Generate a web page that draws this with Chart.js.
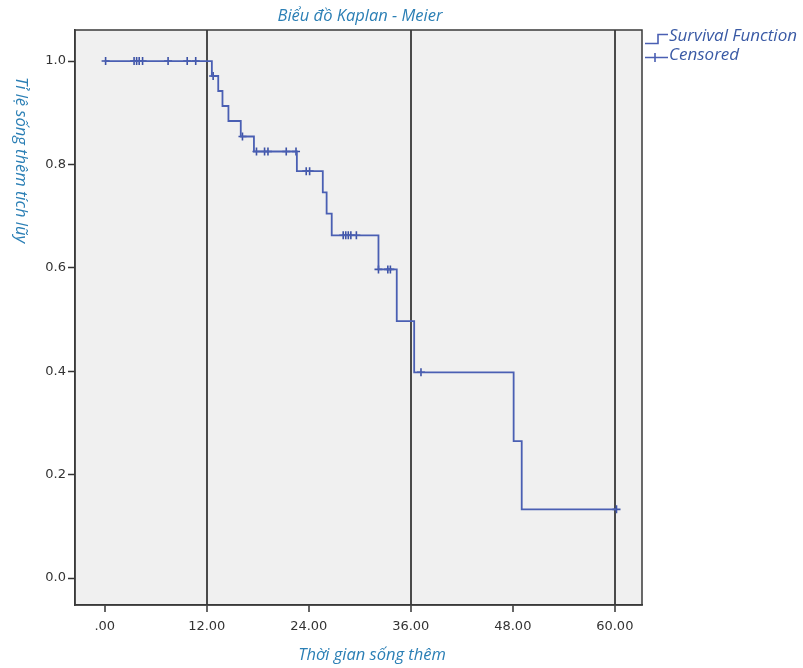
<!DOCTYPE html>
<html>
<head>
<meta charset="utf-8">
<script src="https://cdn.jsdelivr.net/npm/chart.js@4"></script>
<style>
html,body{margin:0;padding:0;background:#fff;}
canvas{display:block;}
</style>
</head>
<body>
<canvas id="c" width="803" height="668"></canvas>
<script>
// ---- data ----
const eventTimes = [0, 12.6, 13.35, 13.85, 14.55, 16.0, 17.55, 22.6, 25.65, 26.1, 26.7, 32.2, 34.35, 36.4, 48.1, 49.05, 60.2];
const survival   = [1.0, 0.971, 0.942, 0.913, 0.884, 0.854, 0.825, 0.787, 0.746, 0.705, 0.663, 0.597, 0.497, 0.398, 0.265, 0.133, 0.133];
const censorTimes  = [0.1, 3.45, 3.75, 4.05, 4.45, 7.45, 9.7, 10.7, 12.75, 16.2, 17.85, 18.8, 19.2, 21.35, 22.5, 23.7, 24.1, 28.05, 28.35, 28.65, 28.95, 29.6, 32.2, 33.3, 33.6, 37.2, 60.2];
const censorValues = [1.0, 1.0, 1.0, 1.0, 1.0, 1.0, 1.0, 1.0, 0.971, 0.854, 0.825, 0.825, 0.825, 0.825, 0.825, 0.787, 0.787, 0.663, 0.663, 0.663, 0.663, 0.663, 0.597, 0.597, 0.597, 0.398, 0.133];
const xTicks = [0, 12, 24, 36, 48, 60];
const yTicks = [0, 0.2, 0.4, 0.6, 0.8, 1.0];
const refLines = [12, 36, 60];
const titleText = 'Biểu đồ Kaplan - Meier';
const xTitle = 'Thời gian sống thêm';
const yTitle = 'Tỉ lệ sống thêm tích lũy';
const legendLabels = ['Survival Function', 'Censored'];

const LINE = '#4a5fb3';
const TITLE_COL = '#2b7fb5';
const LEG_COL = '#3a5aa5';

const decor = {
  id: 'decor',
  beforeDraw(chart) {
    const {ctx, chartArea: a} = chart;
    ctx.save();
    ctx.fillStyle = '#f0f0f0';
    ctx.fillRect(a.left, a.top, a.right - a.left, a.bottom - a.top);
    ctx.restore();
  },
  afterDraw(chart) {
    const {ctx, chartArea: a} = chart;
    ctx.save();
    ctx.strokeStyle = '#3a3a3a';
    ctx.lineWidth = 1.5;
    ctx.strokeRect(a.left, a.top, a.right - a.left, a.bottom - a.top);

    // titles
    ctx.fillStyle = TITLE_COL;
    ctx.font = 'italic 16.5px "Open Sans"';
    ctx.textAlign = 'center';
    ctx.textBaseline = 'middle';
    ctx.fillText(titleText, 360, 16);
    ctx.fillText(xTitle, 372, 655);
    ctx.save();
    ctx.translate(21, 160);
    ctx.rotate(Math.PI / 2);
    ctx.font = 'italic 16.5px "Open Sans"';
    ctx.fillText(yTitle, 0, 0);
    ctx.restore();

    // legend
    ctx.strokeStyle = LINE;
    ctx.lineWidth = 1.6;
    ctx.beginPath();
    ctx.moveTo(645, 43.5); ctx.lineTo(658, 43.5); ctx.lineTo(658, 34.5); ctx.lineTo(668, 34.5);
    ctx.stroke();
    ctx.beginPath();
    ctx.moveTo(645, 57.5); ctx.lineTo(668, 57.5);
    ctx.moveTo(655, 53); ctx.lineTo(655, 62);
    ctx.stroke();
    ctx.fillStyle = LEG_COL;
    ctx.font = 'italic 17px "Open Sans"';
    ctx.textAlign = 'left';
    ctx.fillText(legendLabels[0], 669, 36);
    ctx.fillText(legendLabels[1], 669, 55);
    ctx.restore();
  }
};

new Chart(document.getElementById('c'), {
  type: 'line',
  data: {
    datasets: [
      {
        label: legendLabels[0],
        data: eventTimes.map((t, i) => ({x: t, y: survival[i]})),
        stepped: 'before',
        borderColor: LINE,
        borderWidth: 1.8,
        pointRadius: 0,
        fill: false
      },
      {
        label: legendLabels[1],
        data: censorTimes.map((t, i) => ({x: t, y: censorValues[i]})),
        showLine: false,
        pointStyle: 'cross',
        pointRadius: 4,
        borderColor: '#3d52a6',
        borderWidth: 1.6
      }
    ]
  },
  options: {
    responsive: false,
    animation: false,
    layout: {padding: {left: 0, top: 30, right: 161, bottom: 0}},
    plugins: {legend: {display: false}, tooltip: {enabled: false}},
    scales: {
      x: {
        type: 'linear',
        min: -3.5,
        max: 63.2,
        afterBuildTicks: s => { s.ticks = xTicks.map(v => ({value: v})); },
        afterFit: s => { s.height = 63; },
        grid: {
          color: c => (c.tick && refLines.includes(c.tick.value)) ? '#4a4a4a' : 'rgba(0,0,0,0)',
          lineWidth: 2,
          tickColor: '#333',
          tickLength: 7,
          tickWidth: 1.5
        },
        border: {display: true, color: '#3a3a3a', width: 1.5},
        ticks: {
          color: '#333',
          padding: 7,
          maxRotation: 0,
          font: {family: '"DejaVu Sans"', size: 13},
          callback: v => v === 0 ? '.00' : Number(v).toFixed(2)
        }
      },
      y: {
        type: 'linear',
        min: -0.052,
        max: 1.06,
        afterBuildTicks: s => { s.ticks = yTicks.map(v => ({value: v})); },
        afterFit: s => { s.width = 75; },
        grid: {
          drawOnChartArea: false,
          color: '#333',
          tickColor: '#333',
          tickLength: 7,
          tickWidth: 1.5
        },
        border: {display: true, color: '#3a3a3a', width: 1.5},
        ticks: {
          color: '#333',
          padding: 2,
          font: {family: '"DejaVu Sans"', size: 13},
          callback: v => Number(v).toFixed(1)
        }
      }
    }
  },
  plugins: [decor]
});
</script>
</body>
</html>
